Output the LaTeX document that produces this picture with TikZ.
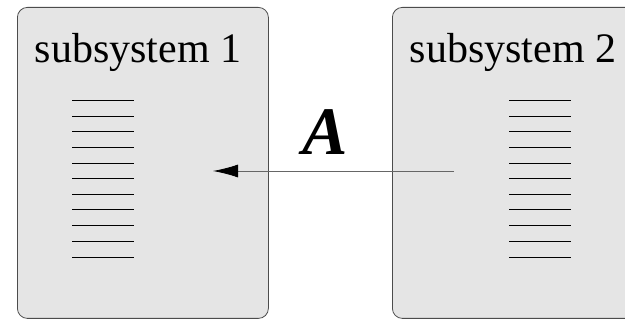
\documentclass[tikz,border=0pt]{standalone}
\usepackage{fontspec}
\setmainfont{Liberation Serif}
\usetikzlibrary{arrows.meta,positioning}

\begin{document}
\begin{tikzpicture}[
    >={Latex[length=25pt,width=13pt,color=black]},
    x=1pt, y=-1pt, % pixel-like coordinates
    box/.style={draw=black!70, fill=black!10, rounded corners=10pt, line width=0.8pt,
                minimum width=251pt, minimum height=311pt, anchor=north west},
    title/.style={font=\fontsize{42}{46}\selectfont, anchor=base},
    rung/.style={line width=1.3pt}
]
\useasboundingbox (0,0) rectangle (625,320);

% ========== subsystem boxes ==========
\node[box] (sub1) at (17,7) {};
\node[box, minimum width=270pt] (sub2) at (392,7) {};

\node[title] (title1) at (138,63) {subsystem 1};
\node[title] (title2) at (513,63) {subsystem 2};

% stacks of lines
\foreach \y in {100,116,131,147,163,178,194,209,225,241,257} {
    \draw[rung] (72,\y+0.5) -- (134,\y+0.5);
    \draw[rung] (509,\y+0.5) -- (571,\y+0.5);
}

% ========== arrow A ==========
\coordinate (src) at (454,171);
\coordinate (dst) at (213,171);
\draw[->, draw=black!60, line width=0.8pt] (src) -- (dst);
\node[font=\fontsize{68}{70}\selectfont\bfseries\itshape, anchor=base] (lblA) at (325,155) {A};

\end{tikzpicture}
\end{document}
